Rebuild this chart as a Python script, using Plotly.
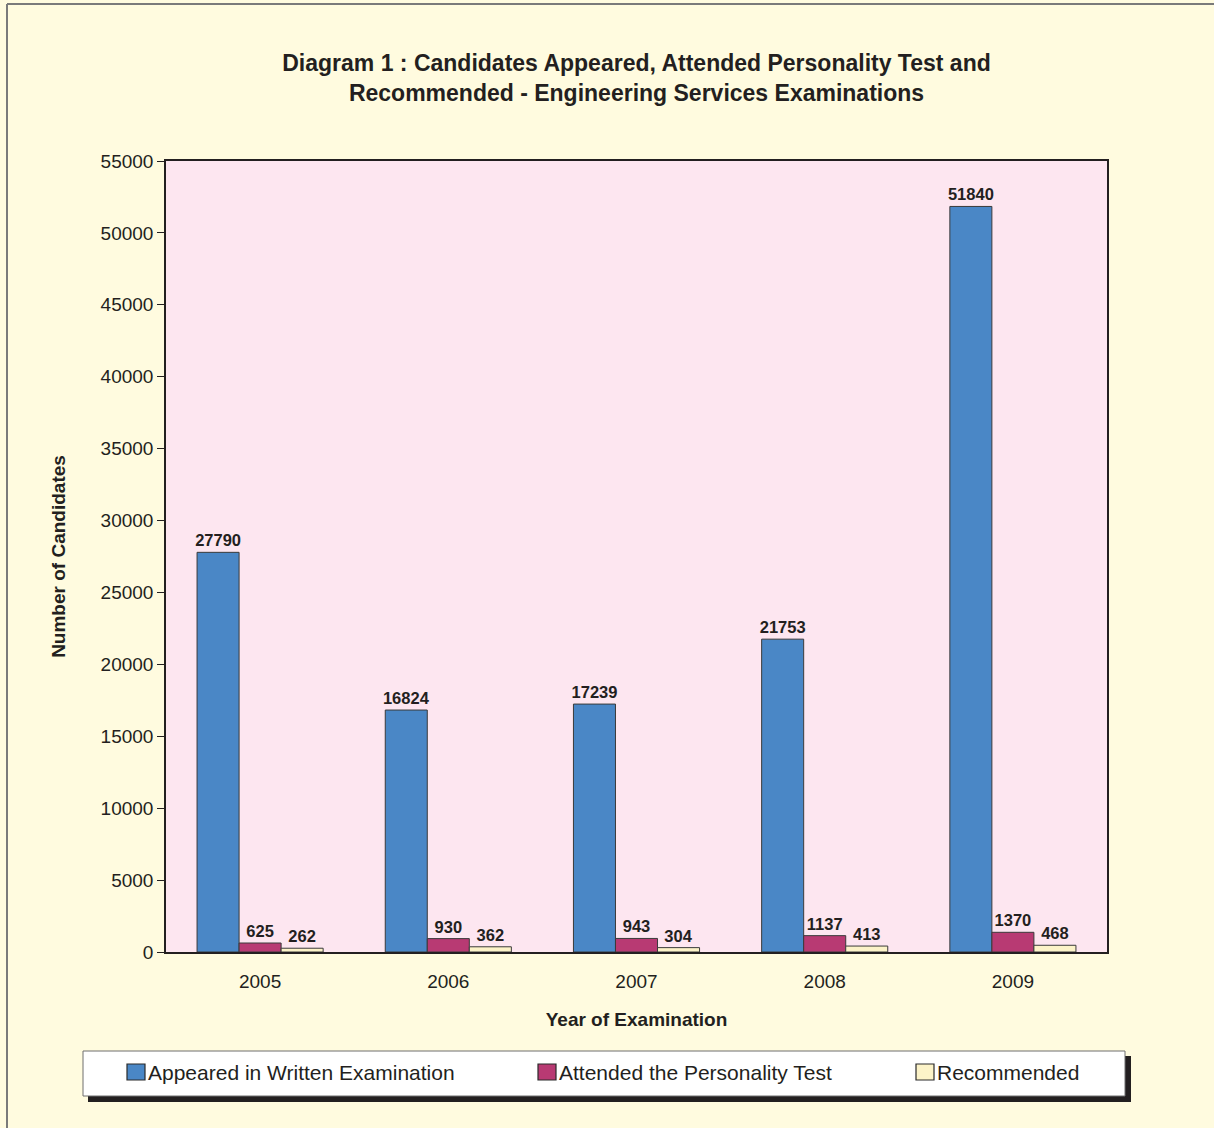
import plotly.graph_objects as go

years = ["2005", "2006", "2007", "2008", "2009"]
appeared = [27790, 16824, 17239, 21753, 51840]
attended = [625, 930, 943, 1137, 1370]
recommended = [262, 362, 304, 413, 468]
series_names = ["Appeared in Written Examination", "Attended the Personality Test", "Recommended"]
series_colors = ["#4a87c6", "#b83a73", "#fcf3c8"]
y_ticks = list(range(0, 55001, 5000))
y_ticktext = [str(v) for v in y_ticks]

W, H = 1214, 1128
L, R, T, B = 166, 1107, 161, 952
def px(x): return (x - L) / (R - L)
def py(y): return (B - y) / (B - T)

FONT = "Liberation Sans, Arial, sans-serif"
INK = "#231f20"

fig = go.Figure()
for name, vals, col in zip(series_names, [appeared, attended, recommended], series_colors):
    fig.add_trace(go.Bar(
        x=years, y=vals, name=name, showlegend=False,
        marker=dict(color=col, line=dict(color="#3a3a3a", width=1)),
        text=[str(v) for v in vals], textposition="outside",
        textfont=dict(family=FONT, size=16.5, color=INK, weight="bold"),
        constraintext="none", cliponaxis=False,
    ))

shapes = [
    # page border (top + left)
    dict(type="line", xref="paper", yref="paper", x0=px(7), x1=px(1214), y0=py(4), y1=py(4),
         line=dict(color="#7a7a7a", width=2), layer="below"),
    dict(type="line", xref="paper", yref="paper", x0=px(7), x1=px(7), y0=py(4), y1=py(1128),
         line=dict(color="#7a7a7a", width=2), layer="below"),
    # plot area shadow + fill
    dict(type="rect", xref="paper", yref="paper", x0=px(169), x1=px(1109), y0=py(954), y1=py(164),
         line=dict(width=0), fillcolor="#a8a49a", layer="below"),
    dict(type="rect", xref="paper", yref="paper", x0=0, x1=1, y0=0, y1=1,
         line=dict(width=0), fillcolor="#fde6f0", layer="below"),
    # legend shadow + box
    dict(type="rect", xref="paper", yref="paper", x0=px(88), x1=px(1131), y0=py(1102), y1=py(1056),
         line=dict(width=0), fillcolor=INK, layer="below"),
    dict(type="rect", xref="paper", yref="paper", x0=px(83), x1=px(1125), y0=py(1096), y1=py(1051),
         line=dict(color="#6e6e6e", width=1), fillcolor="white", layer="below"),
]

annotations = []
legend_x = [127, 538, 916]
for lx, name, col in zip(legend_x, series_names, series_colors):
    shapes.append(dict(type="rect", xref="paper", yref="paper", x0=px(lx), x1=px(lx + 18),
                       y0=py(1080), y1=py(1064), line=dict(color="#2a2a2a", width=1.2), fillcolor=col))
    annotations.append(dict(text=name, xref="paper", yref="paper", x=px(lx + 19), y=py(1072),
                            xanchor="left", yanchor="middle", showarrow=False,
                            font=dict(family=FONT, size=21, color=INK)))

fig.update_layout(
    width=W, height=H,
    margin=dict(l=L, r=W - R, t=T, b=H - B, pad=0),
    paper_bgcolor="#fffbdf", plot_bgcolor="rgba(0,0,0,0)",
    font=dict(family=FONT, color=INK),
    barmode="group", bargap=0.33, bargroupgap=0,
    showlegend=False,
    title=dict(text="Diagram 1 : Candidates Appeared, Attended Personality Test and<br>Recommended - Engineering Services Examinations",
               x=px(636.5), xref="paper", xanchor="center", y=1 - 71 / H, yref="container", yanchor="middle",
               font=dict(family=FONT, size=23, color=INK, weight="bold")),
    xaxis=dict(showgrid=False, showline=True, linecolor=INK, linewidth=1.5, mirror=True,
               ticks="", tickfont=dict(size=19, color=INK), ticklabelstandoff=11,
               title=dict(text="Year of Examination", font=dict(size=19, color=INK, weight="bold"), standoff=22)),
    yaxis=dict(range=[0, 55000], tickvals=y_ticks, ticktext=y_ticktext, showgrid=False, zeroline=False,
               showline=True, linecolor=INK, linewidth=1.5, mirror=True,
               ticks="outside", ticklen=7, tickcolor=INK, tickwidth=1.2,
               tickfont=dict(size=19, color=INK), ticklabelstandoff=0,
               title=dict(text="Number of Candidates", font=dict(size=19, color=INK, weight="bold"), standoff=30)),
    shapes=shapes,
    annotations=annotations,
)

fig.write_html("out.html")
